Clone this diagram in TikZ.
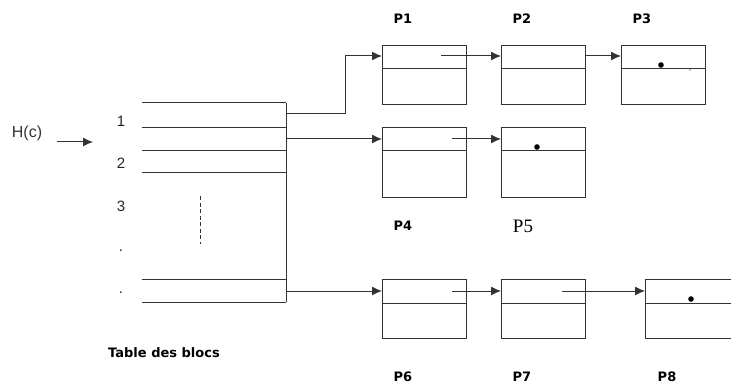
\documentclass[tikz,border=0pt]{standalone}
\usepackage{fontspec}
\setmainfont{DejaVu Sans}
\newfontfamily\arialfont{Liberation Sans}
\newfontfamily\timesfont{Liberation Serif}
\usetikzlibrary{arrows.meta}

\tikzset{
  trait/.style={line width=1pt, draw=black!80},
  bloc/.style={trait, minimum width=84pt, minimum height=59pt, inner sep=0pt, anchor=north west},
  nom/.style={font=\bfseries\fontsize{13}{15}\selectfont},
  chiffre/.style={font=\arialfont\fontsize{15}{17}\selectfont, text=black!85},
  lien/.style={trait, ->},
}

\begin{document}
\begin{tikzpicture}[x=1pt,y=-1pt,>={Latex[length=10pt,width=9pt]}]
		\path[use as bounding box, clip] (0,0) rectangle (731,385);

		% entree de la fonction de hachage
		\node[font=\arialfont\fontsize{16}{18}\selectfont, text=black!80] (hc) at (27,133) {H(c)};
		\coordinate (ha) at (57,142);
		\coordinate (hb) at (93,142);
		\draw[lien] (ha) -- (hb);

		% table des blocs
		\coordinate (tnw) at (142,103);
		\coordinate (tne) at (286,103);
		\coordinate (tse) at (286,302);
		\foreach \y in {103,128,151,173,279,302}
			\draw[trait] (142,\y) -- (286,\y);
		\draw[trait] (tne) -- (tse);
		\draw[trait, dash pattern=on 4pt off 2.5pt, line width=0.8pt] (200,196) -- (200,244);
		\node[chiffre] (n1) at (121,121) {1};
		\node[chiffre] (n2) at (121,163) {2};
		\node[chiffre] (n3) at (121,206) {3};
		\node[chiffre] (n4) at (121,251) {.};
		\node[chiffre] (n5) at (121,293) {.};
		\node[font=\bfseries\fontsize{13}{15}\selectfont] (titre) at (164,353) {Table des blocs};

		% blocs chaines
		\node[bloc] (p1) at (382,45) {};
		\node[bloc] (p2) at (501,45) {};
		\node[bloc] (p3) at (621,45) {};
		\node[bloc, minimum height=70pt] (p4) at (382,127) {};
		\node[bloc, minimum height=70pt] (p5) at (501,127) {};
		\node[bloc] (p6) at (382,279) {};
		\node[bloc] (p7) at (501,279) {};
		\node[bloc, minimum width=95pt] (p8) at (645,279) {};
		\foreach \b in {p1,p2,p3,p4,p5,p6,p7,p8}
			\draw[trait] ([yshift=-24pt]\b.north west) -- ([yshift=-24pt]\b.north east);

		\node[nom] (l1) at (403,19) {P1};
		\node[nom] (l2) at (522,19) {P2};
		\node[nom] (l3) at (642,19) {P3};
		\node[nom] (l4) at (403,226) {P4};
		\node[font=\timesfont\fontsize{19}{21}\selectfont] (l5) at (523,226) {P5};
		\node[nom] (l6) at (403,377) {P6};
		\node[nom] (l7) at (522,377) {P7};
		\node[nom] (l8) at (667,377) {P8};

		% pointeurs de la table
		\coordinate (t1) at (286,114);
		\coordinate (t2) at (286,139);
		\coordinate (t3) at (286,291);
		\draw[lien] (t1) -- ++(59,0) |- ([yshift=-11pt]p1.north west);
		\draw[lien] (t2) -- ([yshift=-12pt]p4.north west);
		\draw[lien] (t3) -- ([yshift=-12pt]p6.north west);

		% pointeurs entre blocs
		\coordinate (s1) at (441,56);
		\coordinate (s4) at (452,139);
		\coordinate (s6) at (452,291);
		\coordinate (s7) at (562,291);
		\draw[lien] (s1) -- ([yshift=-11pt]p2.north west);
		\draw[lien] ([yshift=-11pt]p2.north east) -- ([yshift=-11pt]p3.north west);
		\draw[lien] (s4) -- ([yshift=-12pt]p5.north west);
		\draw[lien] (s6) -- ([yshift=-12pt]p7.north west);
		\draw[lien] (s7) -- ([yshift=-12pt]p8.north west);

		% fins de liste
		\fill (661,65) circle (2.8pt);
		\fill (690,70) circle (0.7pt);
		\fill (537,147) circle (2.8pt);
		\fill (691,299) circle (2.8pt);
	\end{tikzpicture}
\end{document}
